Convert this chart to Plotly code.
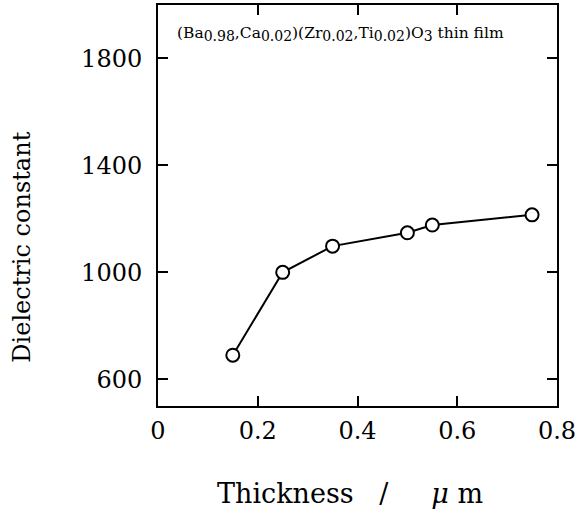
import plotly.graph_objects as go

thickness = [0.15, 0.25, 0.35, 0.50, 0.55, 0.75]
dielectric = [690, 1000, 1098, 1148, 1177, 1215]

x_ticks = [0, 0.2, 0.4, 0.6, 0.8]
x_tick_labels = ["0", "0.2", "0.4", "0.6", "0.8"]
y_ticks = [600, 1000, 1400, 1800]
y_tick_labels = ["600", "1000", "1400", "1800"]

FONT = "DejaVu Serif"

fig = go.Figure()
fig.add_trace(go.Scatter(
    x=thickness, y=dielectric, mode="lines+markers",
    line=dict(color="black", width=2),
    marker=dict(symbol="circle", size=13, color="white",
                line=dict(color="black", width=2)),
    showlegend=False, cliponaxis=False,
))

axis_common = dict(
    showline=True, linecolor="black", linewidth=2, mirror="ticks",
    ticks="inside", ticklen=10, tickwidth=2, tickcolor="black",
    showgrid=False, zeroline=False, ticklabeloverflow="allow",
    automargin=False,
    tickfont=dict(family=FONT, size=24, color="black"),
)

fig.update_xaxes(
    range=[0, 0.8], tickvals=x_ticks, ticktext=x_tick_labels,
    ticklabelstandoff=2,
    **axis_common,
)
fig.update_yaxes(
    range=[500, 2000], tickvals=y_ticks, ticktext=y_tick_labels,
    ticklabelstandoff=9,
    **axis_common,
)

# axis titles
fig.add_annotation(
    x=0.143, y=-0.217, xref="paper", yref="paper", xanchor="left", yanchor="middle",
    text="Thickness&nbsp;&nbsp;&nbsp;/&nbsp;&nbsp;&nbsp;&nbsp;&nbsp;<i>μ</i> m",
    showarrow=False, font=dict(family=FONT, size=27, color="black"),
)
fig.add_annotation(
    x=-0.341, y=0.397, xref="paper", yref="paper", xanchor="center", yanchor="middle",
    text="Dielectric constant", textangle=-90,
    showarrow=False, font=dict(family=FONT, size=24, color="black"),
)

def sub(s):
    return "<sub><span style='font-size:14px'>" + s + "</span></sub>"

fig.add_annotation(
    x=0.034, y=1893, xref="x", yref="y", xanchor="left", yanchor="middle",
    text="(Ba" + sub("0.98") + ",Ca" + sub("0.02") + ")(Zr" + sub("0.02") + ",Ti" + sub("0.02") + ")O" + sub("3") + " thin film",
    showarrow=False, font=dict(family=FONT, size=15.5, color="black"),
)

fig.update_layout(
    width=576, height=510,
    margin=dict(l=158, r=19, t=5, b=104, autoexpand=False),
    plot_bgcolor="white", paper_bgcolor="white",
)

fig.write_html("out.html")
